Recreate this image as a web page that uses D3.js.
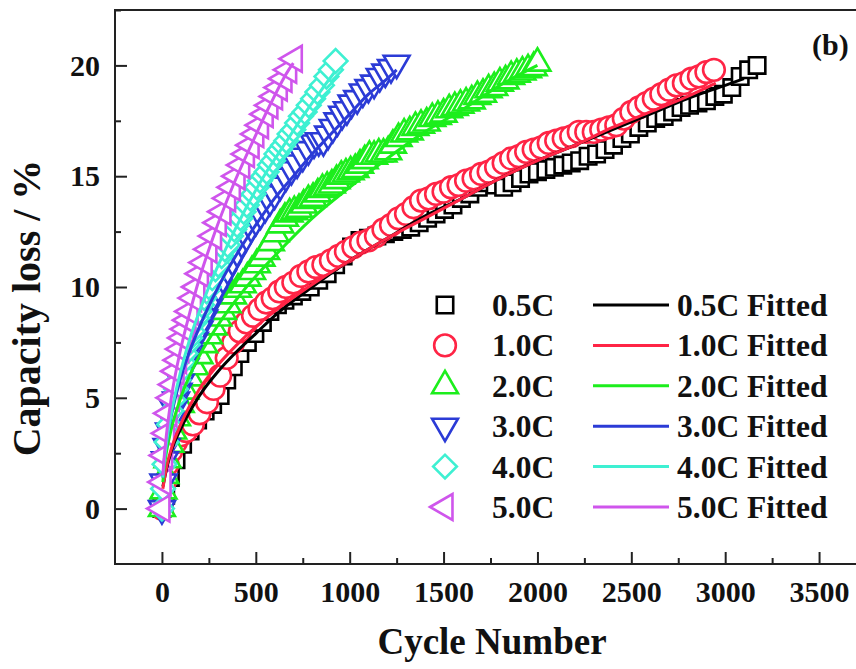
<!DOCTYPE html>
<html>
<head>
<meta charset="utf-8">
<title>capacity-loss</title>
<script src="https://cdn.jsdelivr.net/npm/d3@7/dist/d3.min.js"></script>
<style>
  body { margin: 0; background: #fff; }
  text { font-family: "Liberation Serif", "Times New Roman", serif; font-weight: bold; fill: #111; }
</style>
</head>
<body>
<svg id="chart" width="856" height="669"></svg>
<script>
// data: [cycle, capacity loss %]
var s05 = [[0,0],[20,0.6],[45,1.4],[75,2.2],[110,2.9],[150,3.5],[190,4.0],[230,4.4],[270,4.7],[310,5.1],[345,5.8],[380,6.4],[415,7.0],[455,7.5],[495,7.9],[535,8.4],[575,8.9],[615,9.2],[655,9.4],[700,9.6],[745,9.8],[790,10.0],[835,10.3],[880,10.6],[925,11.0],[965,11.4],[1010,11.8],[1055,12.1],[1100,12.2],[1145,12.3],[1190,12.4],[1235,12.5],[1280,12.6],[1325,12.7],[1370,12.9],[1415,13.1],[1460,13.3],[1505,13.5],[1550,13.7],[1595,14.0],[1640,14.2],[1685,14.5],[1730,14.7],[1775,14.6],[1820,14.5],[1865,14.7],[1910,14.9],[1955,15.1],[2000,15.2],[2045,15.3],[2090,15.4],[2135,15.5],[2180,15.6],[2225,15.7],[2270,15.9],[2315,16.0],[2360,16.2],[2405,16.4],[2450,16.7],[2495,16.9],[2540,17.2],[2585,17.4],[2630,17.6],[2675,17.7],[2720,17.9],[2765,18.1],[2810,18.2],[2855,18.3],[2900,18.4],[2945,18.6],[2990,18.7],[3035,19.0],[3080,19.5],[3125,19.8],[3170,20.0]];
var s10 = [[0,0],[15,1.2],[30,2.0],[50,2.6],[75,3.0],[100,3.3],[130,3.5],[165,3.8],[200,4.3],[240,4.8],[275,5.4],[310,6.0],[345,6.8],[380,7.5],[415,8.0],[450,8.4],[485,8.7],[520,9.0],[555,9.3],[590,9.5],[625,9.8],[660,10.0],[700,10.2],[740,10.5],[780,10.7],[820,10.9],[860,11.0],[900,11.2],[940,11.4],[980,11.6],[1020,11.8],[1060,12.0],[1100,12.1],[1140,12.3],[1180,12.6],[1220,12.8],[1260,13.1],[1300,13.3],[1340,13.6],[1380,13.9],[1420,14.0],[1460,14.2],[1500,14.3],[1540,14.5],[1580,14.6],[1620,14.8],[1660,14.9],[1700,15.1],[1740,15.2],[1780,15.4],[1820,15.6],[1860,15.8],[1900,15.9],[1940,16.1],[1980,16.2],[2020,16.3],[2060,16.5],[2100,16.6],[2140,16.7],[2180,16.8],[2220,17.0],[2260,17.0],[2300,17.0],[2340,17.1],[2380,17.2],[2420,17.3],[2460,17.6],[2500,17.9],[2540,18.1],[2580,18.3],[2620,18.5],[2660,18.7],[2700,18.9],[2740,19.1],[2780,19.2],[2820,19.4],[2860,19.5],[2900,19.7],[2940,19.8]];
var s20 = [[0,0],[8,0.8],[18,1.5],[30,2.2],[45,2.9],[60,3.5],[80,4.1],[100,4.7],[125,5.3],[150,5.9],[175,6.4],[200,6.9],[225,7.4],[250,7.8],[275,8.2],[300,8.6],[325,8.9],[350,9.2],[378,9.6],[405,9.9],[430,10.1],[455,10.4],[480,10.7],[505,11.0],[530,11.3],[555,11.6],[580,12.0],[605,12.4],[630,12.8],[655,13.1],[680,13.3],[705,13.4],[730,13.5],[755,13.7],[780,13.9],[805,14.0],[830,14.2],[855,14.4],[880,14.5],[905,14.6],[930,14.8],[955,15.0],[980,15.1],[1005,15.2],[1030,15.3],[1055,15.5],[1080,15.7],[1105,15.9],[1130,15.9],[1155,16.0],[1180,16.0],[1205,16.1],[1230,16.4],[1260,16.7],[1290,16.9],[1320,17.0],[1350,17.2],[1380,17.3],[1410,17.4],[1440,17.6],[1470,17.7],[1500,17.8],[1530,18.0],[1560,18.1],[1590,18.2],[1620,18.3],[1650,18.4],[1680,18.6],[1710,18.7],[1740,18.9],[1770,19.0],[1800,19.2],[1830,19.3],[1860,19.5],[1890,19.6],[1920,19.7],[1950,19.8],[1980,19.9],[2000,20.1]];
var s30 = [[0,0],[8,1.2],[16,2.2],[25,2.8],[38,3.5],[50,4.0],[62,4.5],[75,4.9],[88,5.3],[100,5.7],[125,6.4],[150,7.0],[175,7.6],[200,8.1],[225,8.6],[250,9.1],[275,9.6],[300,10.0],[325,10.4],[350,10.8],[375,11.2],[400,11.6],[425,12.0],[450,12.3],[475,12.7],[500,13.0],[525,13.3],[550,13.6],[575,13.9],[600,14.2],[630,14.6],[660,15.0],[690,15.3],[720,15.6],[750,15.9],[780,16.2],[810,16.5],[835,16.6],[860,16.6],[885,16.9],[910,17.2],[935,17.5],[960,17.8],[985,18.0],[1010,18.3],[1040,18.5],[1070,18.8],[1100,19.0],[1130,19.2],[1160,19.5],[1190,19.7],[1220,19.9],[1250,20.1]];
var s40 = [[0,0],[6,0.9],[14,2.0],[25,3.0],[38,3.8],[50,4.4],[62,4.9],[75,5.4],[88,5.8],[100,6.2],[112,6.6],[125,7.0],[138,7.4],[150,7.7],[163,8.0],[175,8.4],[188,8.6],[200,8.9],[213,9.2],[225,9.5],[238,9.8],[250,10.0],[268,10.4],[285,10.8],[300,11.0],[318,11.4],[335,11.7],[350,11.9],[368,12.3],[385,12.6],[400,12.8],[418,13.1],[435,13.4],[452,13.7],[470,14.0],[488,14.2],[505,14.5],[522,14.8],[540,15.0],[558,15.2],[575,15.5],[592,15.7],[610,16.0],[628,16.2],[645,16.4],[662,16.6],[680,16.9],[700,17.1],[720,17.4],[740,17.7],[760,17.9],[782,18.2],[805,18.5],[828,18.8],[852,19.1],[876,19.5],[900,19.8],[925,20.2]];
var s50 = [[0,0],[6,1.2],[14,2.4],[25,3.4],[37,4.3],[50,5.0],[62,5.6],[75,6.2],[88,6.7],[100,7.2],[112,7.7],[125,8.1],[138,8.5],[150,8.9],[168,9.5],[186,10.0],[205,10.6],[225,11.1],[250,11.7],[275,12.3],[300,12.9],[325,13.4],[350,14.0],[375,14.5],[400,15.0],[425,15.5],[450,16.0],[475,16.4],[500,16.9],[525,17.3],[550,17.8],[575,18.2],[600,18.6],[625,19.0],[650,19.4],[675,19.8],[705,20.3]];

// fitted curves
var fit05 = [[5,1.0],[25,1.8],[50,2.6],[100,3.6],[200,5.1],[300,6.2],[400,7.1],[500,7.9],[600,8.7],[800,10.0],[1000,11.2],[1200,12.2],[1400,13.2],[1600,14.0],[1800,14.9],[2000,15.7],[2200,16.4],[2400,17.1],[2600,17.8],[2800,18.5],[3000,19.1],[3100,19.4]];
var fit10 = [[5,0.9],[25,1.9],[50,2.7],[100,3.8],[200,5.4],[300,6.5],[400,7.4],[500,8.2],[600,8.9],[780,10.0],[1000,11.2],[1200,12.2],[1400,13.1],[1600,14.0],[1800,14.9],[2000,15.7],[2200,16.4],[2400,17.2],[2600,17.9],[2800,18.6],[2950,19.2]];
var fit20 = [[5,1.2],[10,1.7],[25,2.6],[50,3.6],[100,5.0],[200,6.9],[300,8.3],[450,10.0],[600,11.4],[800,13.1],[1000,14.5],[1200,15.8],[1400,17.0],[1600,18.0],[1800,19.1],[2000,20.0]];
var fit30 = [[5,1.4],[10,2.0],[25,3.0],[50,4.2],[100,5.9],[200,8.2],[300,10.0],[400,11.5],[500,12.8],[600,14.0],[700,15.0],[800,16.0],[900,16.9],[1000,17.8],[1100,18.7],[1200,19.4],[1250,19.8]];
var fit40 = [[5,1.4],[10,1.9],[25,3.0],[50,4.3],[100,6.2],[150,7.7],[200,8.9],[250,10.0],[350,11.9],[450,13.6],[550,15.1],[650,16.4],[750,17.7],[850,18.9],[920,19.7]];
var fit50 = [[5,1.5],[10,2.1],[25,3.4],[50,5.0],[100,7.2],[150,8.9],[186,10.0],[275,12.3],[375,14.5],[475,16.4],[575,18.2],[675,19.8],[700,20.1]];

var rates = ['0.5C', '1.0C', '2.0C', '3.0C', '4.0C', '5.0C'];
var xTicks = [0, 500, 1000, 1500, 2000, 2500, 3000, 3500];
var yTicks = [0, 5, 10, 15, 20];

var points = [s05, s10, s20, s30, s40, s50];
var fits = [fit05, fit10, fit20, fit30, fit40, fit50];

var colors = ['#000000', '#ff2445', '#1cee1c', '#2b3bd6', '#3ef0d2', '#cf55ec'];
// symbol, size, rotation
var shapes = [
  [d3.symbolSquare, 270, 0],
  [d3.symbolCircle, 370, 0],
  [d3.symbolTriangle, 290, 0],
  [d3.symbolTriangle, 290, 180],
  [d3.symbolSquare, 280, 45],
  [d3.symbolTriangle, 290, -90]
];

var svg = d3.select('#chart');
var x = d3.scaleLinear().domain([-250, 3750]).range([115, 866]);
var y = d3.scaleLinear().domain([-2.5, 22.5]).range([564, 10]);

// frame
svg.append('rect')
  .attr('x', 115).attr('y', 10)
  .attr('width', 866 - 115).attr('height', 564 - 10)
  .attr('fill', 'none').attr('stroke', '#222').attr('stroke-width', 2);

// axes, ticks inward
var xAxis = svg.append('g').attr('transform', 'translate(0,564)')
  .call(d3.axisBottom(x).tickValues(xTicks).tickSize(-12).tickPadding(17).tickFormat(d3.format('d')));
var xMinor = svg.append('g').attr('transform', 'translate(0,564)')
  .call(d3.axisBottom(x).tickValues(xTicks.map(function(d){ return d + 250; }).slice(0, 7)).tickSize(-6).tickFormat(''));
var yAxis = svg.append('g').attr('transform', 'translate(115,0)')
  .call(d3.axisLeft(y).tickValues(yTicks).tickSize(-12).tickPadding(15));
var yMinor = svg.append('g').attr('transform', 'translate(115,0)')
  .call(d3.axisLeft(y).tickValues(yTicks.map(function(d){ return d + 2.5; })).tickSize(-6).tickFormat(''));

[xAxis, xMinor, yAxis, yMinor].forEach(function(g){
  g.select('.domain').remove();
  g.selectAll('line').attr('stroke', '#222').attr('stroke-width', 2);
  g.selectAll('text').style('font-size', '30px').attr('fill', '#111')
    .style('font-family', '"Liberation Serif", "Times New Roman", serif').style('font-weight', 'bold');
});

// axis titles
svg.append('text').attr('x', 492).attr('y', 654).attr('text-anchor', 'middle')
  .style('font-size', '37px').text('Cycle Number');
svg.append('text').attr('transform', 'translate(40,308) rotate(-90)').attr('text-anchor', 'middle')
  .style('font-size', '40px').text('Capacity loss / %');
svg.append('text').attr('x', 812).attr('y', 55).style('font-size', '30px').text('(b)');

function marker(i) {
  return d3.symbol().type(shapes[i][0]).size(shapes[i][1])();
}

// scatter markers
points.forEach(function(data, i){
  svg.append('g').selectAll('path').data(data).enter().append('path')
    .attr('d', marker(i))
    .attr('transform', function(d){ return 'translate(' + x(d[0]) + ',' + y(d[1]) + ') rotate(' + shapes[i][2] + ')'; })
    .attr('fill', '#fff')
    .attr('stroke', colors[i])
    .attr('stroke-width', 2.6);
});

// fitted lines
var line = d3.line().x(function(d){ return x(d[0]); }).y(function(d){ return y(d[1]); }).curve(d3.curveMonotoneX);
fits.forEach(function(data, i){
  svg.append('path').datum(data)
    .attr('d', line)
    .attr('fill', 'none')
    .attr('stroke', colors[i])
    .attr('stroke-width', 3);
});

// legend
var legend = svg.append('g');
rates.forEach(function(r, i){
  var cy = 305 + i * 40.4;
  legend.append('path')
    .attr('d', marker(i))
    .attr('transform', 'translate(445,' + cy + ') rotate(' + shapes[i][2] + ')')
    .attr('fill', '#fff').attr('stroke', colors[i]).attr('stroke-width', 2.6);
  legend.append('text').attr('x', 492).attr('y', cy).attr('dy', '0.35em')
    .style('font-size', '31.5px').text(r);
  legend.append('line').attr('x1', 593).attr('x2', 669).attr('y1', cy).attr('y2', cy)
    .attr('stroke', colors[i]).attr('stroke-width', 3);
  legend.append('text').attr('x', 677).attr('y', cy).attr('dy', '0.35em')
    .style('font-size', '31.5px').text(r + ' Fitted');
});
</script>
</body>
</html>
